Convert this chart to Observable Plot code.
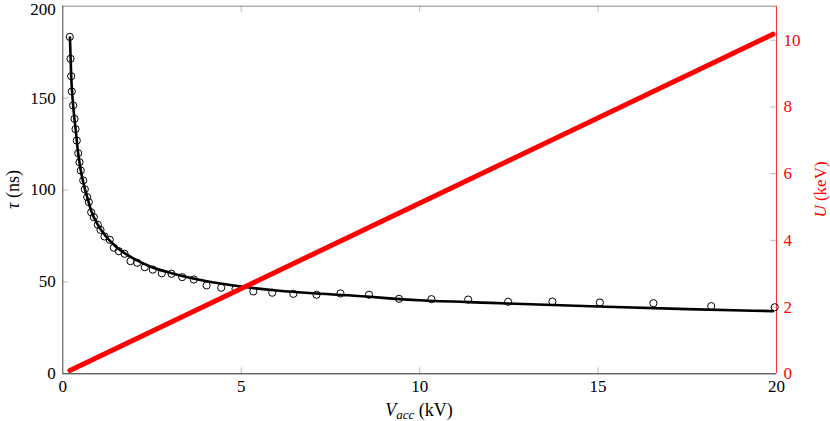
<!DOCTYPE html>
<html>
<head>
<meta charset="utf-8">
<script src="https://cdn.jsdelivr.net/npm/d3@7"></script>
<script src="https://cdn.jsdelivr.net/npm/@observablehq/plot@0.6"></script>
<style>
  html, body { margin: 0; padding: 0; background: #fff; }
  #chart svg { display: block; }
  #chart svg, #chart svg text { font-family: "Liberation Serif", "Times New Roman", Times, "DejaVu Serif", "Noto Serif", serif; }
</style>
</head>
<body>
<div id="chart"></div>
<script>
// Measured data points (circles): V_acc (kV) and tau (ns)
const dataV = [0.196,0.216,0.235,0.252,0.291,0.328,0.356,0.392,0.432,0.468,0.504,0.572,0.617,0.684,0.729,0.796,0.869,0.981,1.057,1.169,1.317,1.430,1.570,1.730,1.898,2.085,2.298,2.522,2.775,3.047,3.346,3.672,4.03,4.44,4.84,5.34,5.87,6.46,7.11,7.78,8.58,9.42,10.33,11.36,12.48,13.72,15.05,16.55,18.17,19.95];
const dataTau = [183.3,171.4,161.9,153.6,146.0,138.7,133.1,126.9,120.0,115.1,110.6,105.2,100.4,96.1,93.4,87.9,85.2,81.1,78.3,74.7,72.9,68.6,66.7,65.3,61.3,60.4,58.0,56.7,54.7,54.4,52.6,51.3,48.1,46.8,46.2,44.8,44.1,43.5,43.0,43.7,43.0,40.8,40.6,40.4,39.2,39.3,38.8,38.4,36.8,36.2];

// Fit curve
const fitV = [0.2,0.235,0.29,0.36,0.43,0.5,0.6,0.7,0.8,1.0,1.2,1.5,2.0,2.5,3,4,5,6,7,8,10,12,15,17.5,19.9];
const fitTau = [183,162,146,133,120,111,102,95,88.5,80.5,75,69,62.5,58,55,50.5,47.5,45.3,43.8,42.7,40.0,38.6,36.6,35.2,34.1];

// Energy U (keV) vs V_acc (red line, right axis)
const energyV = [0.2, 19.9];
const energyU = [0.1, 10.18];

// Axes
const xTicks = [0, 5, 10, 15, 20];
const tauTicks = [0, 50, 100, 150, 200];
const uTicks = [0, 2, 4, 6, 8, 10];
const tauMax = 200;
const uMax = 11.02;
const k = tauMax / uMax; // maps U onto the tau scale

const points = dataV.map((v, i) => ({v, tau: dataTau[i]}));
const fit = fitV.map((v, i) => ({v, tau: fitTau[i]}));
const energy = energyV.map((v, i) => ({v, u: energyU[i]}));

const chart = Plot.plot({
  width: 830,
  height: 421,
  marginLeft: 62.3,
  marginRight: 54,
  marginTop: 5.7,
  marginBottom: 47.7,
  x: {domain: [0, 20]},
  y: {domain: [0, tauMax]},
  style: {fontSize: "16px", background: "#fff", color: "#000", overflow: "visible"},
  marks: [
    // inward tick marks
    Plot.tickX(xTicks.slice(1, -1), {x: d => d, stroke: "#bbb", insetTop: 361.6}),
    Plot.tickX(xTicks.slice(1, -1), {x: d => d, stroke: "#bbb", insetBottom: 361.6}),
    Plot.tickY(tauTicks.slice(1, -1), {y: d => d, stroke: "#bbb", insetRight: 707.7}),
    Plot.tickY(uTicks.slice(1), {y: d => d * k, stroke: "#bbb", insetLeft: 707.7}),
    // frame lines
    Plot.ruleY([tauMax], {stroke: "#888"}),
    Plot.ruleX([0], {stroke: "#444"}),
    Plot.ruleY([0], {stroke: "#222"}),
    Plot.ruleX([20], {stroke: "#ff3030"}),
    // tick labels
    Plot.axisX(xTicks, {tickSize: 0, tickPadding: 6, label: null, fill: "#000", fontSize: 17}),
    Plot.axisY(tauTicks.slice(0, -1), {tickSize: 0, tickPadding: 7, label: null, fill: "#000", fontSize: 17}),
    Plot.axisY(tauTicks.slice(-1), {tickSize: 0, tickPadding: 7, label: null, fill: "#000", fontSize: 17, dy: 3}),
    Plot.axisY(uTicks.map(u => u * k), {anchor: "right", tickSize: 0, tickPadding: 7, label: null,
      tickFormat: d => String(Math.round(d / k)), fill: "#ff0000", fontSize: 17}),
    // data
    Plot.line(fit, {x: "v", y: "tau", stroke: "#000", strokeWidth: 2.6, curve: "monotone-x"}),
    Plot.dot(points, {x: "v", y: "tau", r: 3.6, stroke: "#000", strokeWidth: 1, fill: "none"}),
    Plot.line(energy, {x: "v", y: d => d.u * k, stroke: "#ff0000", strokeWidth: 5})
  ]
});

document.getElementById("chart").append(chart);

// Axis titles with math italics
const svg = d3.select(chart);
const xt = svg.append("text")
  .attr("x", 419).attr("y", 415.5)
  .attr("text-anchor", "middle")
  .style("font-size", "18px").attr("fill", "#000");
xt.append("tspan").style("font-style", "italic").text("V");
xt.append("tspan").style("font-style", "italic").style("font-size", "13px").attr("dy", 3.5).text("acc");
xt.append("tspan").attr("dy", -3.5).text(" (kV)");

const yt = svg.append("text")
  .attr("transform", "translate(19,189.5) rotate(-90)")
  .attr("text-anchor", "middle")
  .style("font-size", "18px").attr("fill", "#000");
yt.append("tspan").style("font-style", "italic").text("τ");
yt.append("tspan").text(" (ns)");

const ut = svg.append("text")
  .attr("transform", "translate(826,189.5) rotate(-90)")
  .attr("text-anchor", "middle")
  .style("font-size", "17px").attr("fill", "#ff0000");
ut.append("tspan").style("font-style", "italic").text("U");
ut.append("tspan").text(" (keV)");
</script>
</body>
</html>
